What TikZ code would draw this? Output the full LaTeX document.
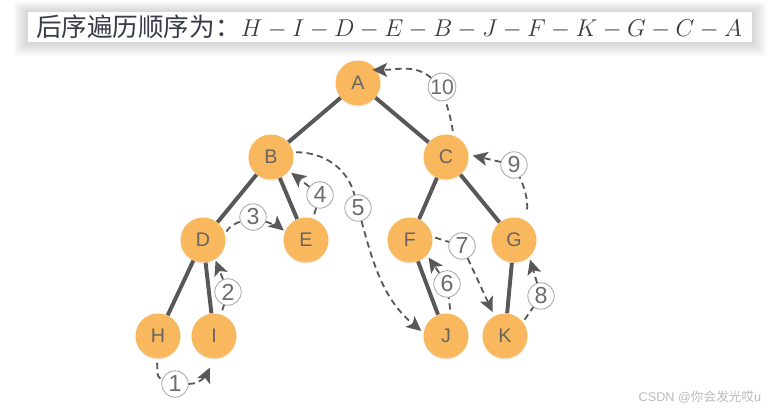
\documentclass[tikz,border=0pt]{standalone}
\usepackage{fontspec}
\setsansfont{Liberation Sans}
\newfontfamily\cjk{Noto Sans CJK SC}
\usepackage{tikz}
\usetikzlibrary{arrows.meta, positioning, calc, shadows}
\definecolor{nodeorange}{RGB}{250,184,94}
\definecolor{edgegray}{RGB}{88,88,88}
\definecolor{nodeink}{RGB}{105,100,95}
\definecolor{titleink}{RGB}{55,60,72}
\tikzstyle{treenode} = [circle, fill=nodeorange, minimum size=1.125cm, inner sep=0pt,
  font=\sffamily\fontsize{14}{14}\selectfont, text=nodeink,
  drop shadow={opacity=0.12, shadow xshift=0pt, shadow yshift=-1.2pt}]
\tikzstyle{treeedge} = [line width=2.8pt, draw=edgegray]
\tikzstyle{stepnum} = [circle, draw=gray!75, line width=0.55pt, fill=white, minimum size=0.66cm,
  inner sep=0pt, font=\sffamily\fontsize{16.5}{16.5}\selectfont, text=gray!85!black]
\tikzstyle{walk} = [dashed, dash pattern=on 4.5pt off 3pt, line width=1.3pt, draw=edgegray]
\tikzstyle{walkarrow} = [walk, -{Stealth[length=10.5pt, width=10pt, inset=2.5pt]}]

\begin{document}
\begin{tikzpicture}[x=0.025cm, y=0.025cm]
  \useasboundingbox (0,0) rectangle (782,411);

  % title band with a soft shadow
  \foreach \s in {1,...,7}
    \fill[black, opacity=0.025, rounded corners=2pt] (28-\s*2,369-\s*2) rectangle (752+\s*2,399+\s*1.4);
  \fill[white] (28,369) rectangle (752,399);
  \node[text=titleink, font=\fontsize{18.2}{18.2}\selectfont] (title) at (389,384)
    {{\cjk 后序遍历顺序为：}$H-I-D-E-B-J-F-K-G-C-A$};

  % tree
  \node[treenode] (A) at (358,328) {A};
  \node[treenode] (B) at (271,254) {B};
  \node[treenode] (C) at (446,254) {C};
  \node[treenode] (D) at (203,171) {D};
  \node[treenode] (E) at (306,171) {E};
  \node[treenode] (F) at (410,171) {F};
  \node[treenode] (G) at (514,171) {G};
  \node[treenode] (H) at (158,75) {H};
  \node[treenode] (I) at (214,75) {I};
  \node[treenode] (J) at (446,75) {J};
  \node[treenode] (K) at (505,75) {K};

  \draw[treeedge] (A) -- (B);
  \draw[treeedge] (A) -- (C);
  \draw[treeedge] (B) -- (D);
  \draw[treeedge] (B) -- (E);
  \draw[treeedge] (C) -- (F);
  \draw[treeedge] (C) -- (G);
  \draw[treeedge] (D) -- (H);
  \draw[treeedge] (D) -- (I);
  \draw[treeedge] (F) -- (J);
  \draw[treeedge] (G) -- (K);

  % step labels
  \node[stepnum] (n1) at (175,27) {1};
  \node[stepnum] (n2) at (228,119) {2};
  \node[stepnum] (n3) at (253,194) {3};
  \node[stepnum] (n4) at (320,216) {4};
  \node[stepnum] (n5) at (358,203) {5};
  \node[stepnum] (n6) at (447,127) {6};
  \node[stepnum] (n7) at (462,165) {7};
  \node[stepnum] (n8) at (541,115) {8};
  \node[stepnum] (n9) at (514,246) {9};
  \node[stepnum, font=\sffamily\fontsize{15}{15}\selectfont] (n10) at (442,324) {10};

  % postorder walk
  \draw[walk, shorten <=3pt] (H.265) to[out=-75, in=160] (n1);
  \draw[walkarrow, shorten >=7pt] (n1) to[out=0, in=-115] (I.south);
  \draw[walk, shorten <=3pt] (I.72) -- (n2);
  \draw[walkarrow, shorten >=1pt] (n2) -- (D.-58);
  \draw[walk, shorten <=2pt] (D.15) to[out=60, in=-160] (n3);
  \draw[walkarrow, shorten >=1pt] (n3) to[out=-20, in=140] (E.158);
  \draw[walk, shorten <=3pt] (E.72) -- (n4);
  \draw[walkarrow, shorten >=2pt] (n4) -- (B.-38);
  \draw[walk, shorten <=2pt] (B.12) to[out=0, in=105] (n5);
  \draw[walkarrow, shorten >=2pt] (n5) to[out=-75, in=140] (J.172);
  \draw[walk, shorten <=3pt] (J.78) -- (n6);
  \draw[walkarrow, shorten >=2pt] (n6) -- (F.-42);
  \draw[walk, shorten <=2pt] (F.8) -- (n7);
  \draw[walkarrow, shorten >=3pt] (n7) -- (K.118);
  \draw[walk, shorten <=2pt] (K.38) -- (n8);
  \draw[walkarrow, shorten >=2pt] (n8) -- (G.-48);
  \draw[walk, shorten <=8pt] (G.58) to[out=85, in=-65] (n9);
  \draw[walkarrow, shorten >=3pt] (n9) -- (C.6);
  \draw[walk, shorten <=3pt] (C.72) to[out=95, in=-75] (n10);
  \draw[walkarrow, shorten >=-3pt] (n10) to[out=140, in=0] (A.35);

  % watermark
  \node[text=gray!55, font=\sffamily\fontsize{9}{9}\selectfont] (mark) at (700,14) {CSDN @{\cjk 你会发光哎}u};
\end{tikzpicture}
\end{document}
